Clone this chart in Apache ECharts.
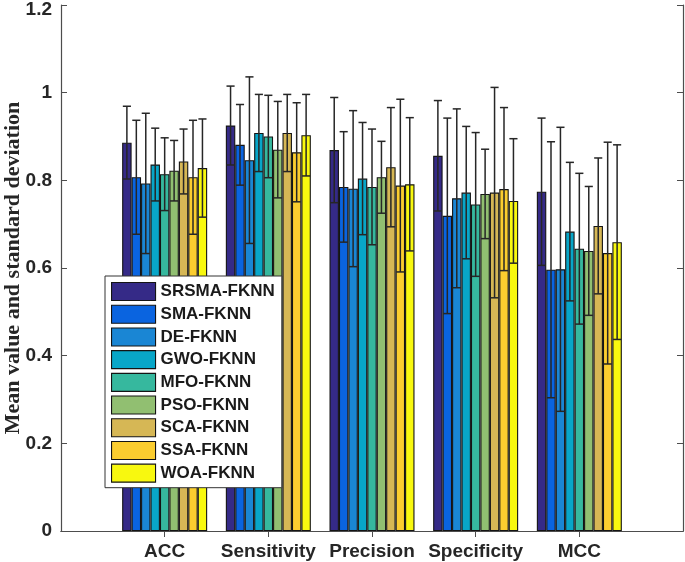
<!DOCTYPE html>
<html>
<head>
<meta charset="utf-8">
<script src="https://cdn.jsdelivr.net/npm/echarts@6/dist/echarts.min.js"></script>
<style>html,body{margin:0;padding:0;background:#fff}#c{width:685px;height:562px}</style>
</head>
<body>
<div id="c"></div>
<script>
const categories = ['ACC', 'Sensitivity', 'Precision', 'Specificity', 'MCC'];
const seriesNames = ['SRSMA-FKNN', 'SMA-FKNN', 'DE-FKNN', 'GWO-FKNN', 'MFO-FKNN', 'PSO-FKNN', 'SCA-FKNN', 'SSA-FKNN', 'WOA-FKNN'];
const colors = ['#352a87', '#0a64e0', '#1a86d4', '#08a6c8', '#36b89e', '#91bf71', '#d6b755', '#fbcd2f', '#f8f80f'];
const yTicks = [0, 0.2, 0.4, 0.6, 0.8, 1, 1.2];

const meanSRSMA = [0.886, 0.925, 0.869, 0.856, 0.774];
const sdSRSMA   = [0.083, 0.090, 0.120, 0.126, 0.168];
const meanSMA   = [0.807, 0.881, 0.785, 0.719, 0.596];
const sdSMA     = [0.130, 0.092, 0.126, 0.223, 0.292];
const meanDE    = [0.793, 0.846, 0.781, 0.759, 0.597];
const sdDE      = [0.160, 0.190, 0.178, 0.204, 0.324];
const meanGWO   = [0.836, 0.908, 0.804, 0.772, 0.683];
const sdGWO     = [0.083, 0.088, 0.128, 0.151, 0.158];
const meanMFO   = [0.814, 0.900, 0.785, 0.745, 0.644];
const sdMFO     = [0.083, 0.094, 0.132, 0.164, 0.172];
const meanPSO   = [0.822, 0.870, 0.807, 0.769, 0.639];
const sdPSO     = [0.069, 0.110, 0.082, 0.102, 0.147];
const meanSCA   = [0.843, 0.908, 0.830, 0.772, 0.696];
const sdSCA     = [0.074, 0.088, 0.136, 0.240, 0.155];
const meanSSA   = [0.807, 0.864, 0.788, 0.780, 0.634];
const sdSSA     = [0.130, 0.113, 0.197, 0.186, 0.253];
const meanWOA   = [0.828, 0.903, 0.791, 0.753, 0.659];
const sdWOA     = [0.112, 0.093, 0.152, 0.142, 0.222];

const means = [meanSRSMA, meanSMA, meanDE, meanGWO, meanMFO, meanPSO, meanSCA, meanSSA, meanWOA];
const sds = [sdSRSMA, sdSMA, sdDE, sdGWO, sdMFO, sdPSO, sdSCA, sdSSA, sdWOA];

// padded category list so groups sit at 1..5 on a 0..6 axis (MATLAB style)
const axisCats = [''].concat(categories, ['']);
const nSeries = seriesNames.length;
const groupFrac = 0.82;

const series = [];
seriesNames.forEach(function (name, k) {
  series.push({
    name: name,
    type: 'bar',
    barGap: '0%',
    barCategoryGap: '18%',
    data: ['-'].concat(means[k], ['-']),
    itemStyle: { color: colors[k], borderColor: '#141414', borderWidth: 1.1 },
    emphasis: { disabled: true },
    z: 2
  });
});
seriesNames.forEach(function (name, k) {
  series.push({
    name: name + ' sd',
    type: 'custom',
    z: 5,
    silent: true,
    data: categories.map(function (c, j) { return [j + 1, means[k][j], sds[k][j]]; }),
    renderItem: function (params, api) {
      const cat = api.value(0), m = api.value(1), s = api.value(2);
      const band = api.size([1, 0])[0];
      const bw = band * groupFrac / nSeries;
      const cx = api.coord([cat, m])[0] + (k - (nSeries - 1) / 2) * bw;
      const yT = api.coord([cat, m + s])[1];
      const yB = api.coord([cat, m - s])[1];
      const half = bw * 0.43;
      const st = { stroke: '#262626', lineWidth: 1.5 };
      return {
        type: 'group',
        children: [
          { type: 'line', shape: { x1: cx, y1: yT, x2: cx, y2: yB }, style: st },
          { type: 'line', shape: { x1: cx - half, y1: yT, x2: cx + half, y2: yT }, style: st },
          { type: 'line', shape: { x1: cx - half, y1: yB, x2: cx + half, y2: yB }, style: st }
        ]
      };
    }
  });
});

const axisColor = '#4d4d4d';
const tickOnCats = function (idx, val) { return val !== ''; };
const labelFont = { fontFamily: 'Liberation Sans, Arial, sans-serif', fontWeight: 'bold', fontSize: 19, color: '#262626' };

const option = {
  animation: false,
  grid: { left: 61, right: 2, top: 5, bottom: 31, containLabel: false, outerBoundsMode: 'none' },
  legend: {
    data: seriesNames,
    orient: 'vertical',
    left: 105,
    top: 276,
    icon: 'rect',
    itemWidth: 44,
    itemHeight: 18,
    itemGap: 3.6,
    padding: [6, 7, 5, 6],
    backgroundColor: '#fff',
    borderColor: '#333',
    borderWidth: 1,
    itemStyle: { borderColor: '#141414', borderWidth: 1.1 },
    textStyle: { fontFamily: 'Liberation Sans, Arial, sans-serif', fontWeight: 'bold', fontSize: 17, color: '#1a1a1a' },
    selectedMode: false
  },
  xAxis: [
    {
      type: 'category', data: axisCats, boundaryGap: false, position: 'bottom',
      axisLine: { lineStyle: { color: axisColor, width: 1.2 } },
      axisTick: { inside: true, length: 6, interval: tickOnCats, lineStyle: { color: axisColor } },
      axisLabel: Object.assign({ interval: tickOnCats, margin: 11 }, labelFont),
      splitLine: { show: false }
    },
    {
      type: 'category', data: axisCats, boundaryGap: false, position: 'top',
      axisLine: { lineStyle: { color: axisColor, width: 1.2 } },
      axisTick: { inside: true, length: 6, interval: tickOnCats, lineStyle: { color: axisColor } },
      axisLabel: { show: false },
      splitLine: { show: false }
    }
  ],
  yAxis: [
    {
      type: 'value', min: yTicks[0], max: yTicks[yTicks.length - 1], interval: 0.2, position: 'left',
      name: 'Mean value and standard deviation', nameLocation: 'middle', nameGap: 37, nameMoveOverlap: false,
      nameTextStyle: { fontFamily: 'Liberation Serif, Times New Roman, serif', fontWeight: 'bold', fontSize: 22, color: '#262626' },
      axisLine: { show: true, lineStyle: { color: axisColor, width: 1.2 } },
      axisTick: { show: true, inside: true, length: 6, lineStyle: { color: axisColor } },
      axisLabel: Object.assign({
        margin: 9,
        formatter: function (v) { return v === yTicks[yTicks.length - 1] ? '{top|' + v + '}' : String(v); },
        rich: { top: Object.assign({ padding: [9, 0, 0, 0] }, labelFont) }
      }, labelFont),
      splitLine: { show: false }
    },
    {
      type: 'value', min: yTicks[0], max: yTicks[yTicks.length - 1], interval: 0.2, position: 'right',
      axisLine: { show: true, lineStyle: { color: axisColor, width: 1.2 } },
      axisTick: { show: true, inside: true, length: 6, lineStyle: { color: axisColor } },
      axisLabel: { show: false },
      splitLine: { show: false }
    }
  ],
  series: series
};

const chart = echarts.init(document.getElementById('c'), null, { renderer: 'canvas' });
chart.setOption(option);
</script>
</body>
</html>
